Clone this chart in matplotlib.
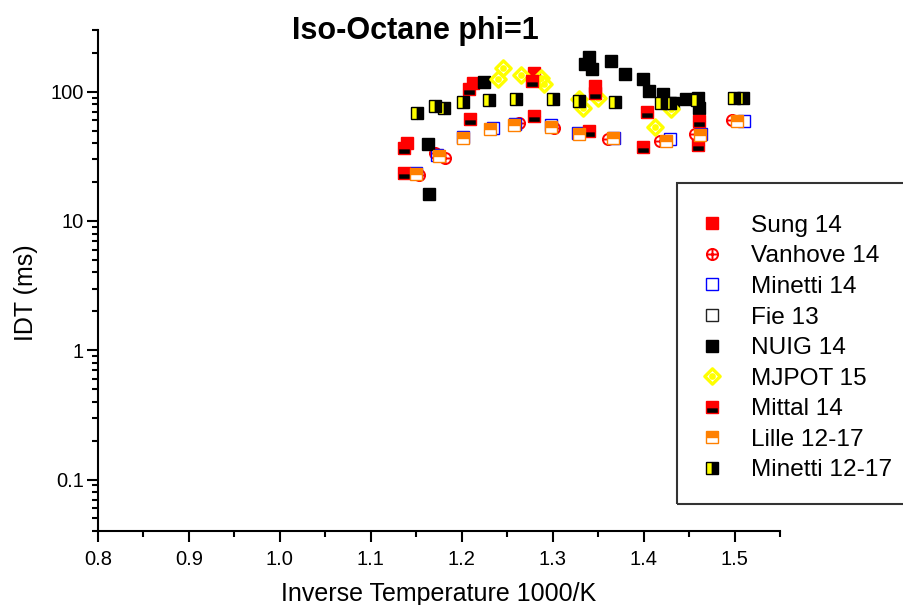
import matplotlib
matplotlib.use("Agg")
import matplotlib.pyplot as plt
from matplotlib.path import Path
from matplotlib.patches import Rectangle
import numpy as np

plt.rcParams['font.family'] = ['Liberation Sans', 'DejaVu Sans']

# ---------------- data (1000/T, IDT in ms) ----------------
sung_x = [1.140, 1.212, 1.280, 1.347]
sung_y = [39.9, 117.6, 140.5, 110.0]

vanhove_x = [1.153, 1.171, 1.182, 1.263, 1.302, 1.361, 1.418, 1.457, 1.497]
vanhove_y = [22.6, 33.8, 30.5, 56.9, 52.8, 43.4, 41.6, 46.8, 60.4]

minetti14_x = [1.150, 1.173, 1.201, 1.234, 1.259, 1.298, 1.328, 1.367, 1.429, 1.463, 1.510]
minetti14_y = [23.3, 32.2, 44.6, 52.4, 56.0, 55.0, 48.3, 44.2, 42.8, 46.8, 59.3]

fie_x = []
fie_y = []

nuig_x = [1.163, 1.164, 1.225, 1.340, 1.336, 1.343, 1.364, 1.380, 1.399, 1.406,
          1.421, 1.432, 1.447, 1.460, 1.461]
nuig_y = [39.2, 16.1, 118.9, 186.2, 162.9, 149.0, 172.8, 136.3, 124.7, 101.3,
          95.5, 82.4, 87.4, 90.0, 75.3]

mjpot_x = [1.240, 1.245, 1.265, 1.287, 1.291, 1.329, 1.333, 1.350, 1.412, 1.430]
mjpot_y = [126.3, 153.6, 133.9, 128.5, 114.1, 88.4, 75.3, 90.0, 53.5, 73.1]

mittal_x = [1.137, 1.137, 1.208, 1.209, 1.277, 1.280, 1.340, 1.347, 1.399, 1.404, 1.460, 1.461]
mittal_y = [37.0, 23.3, 104.4, 61.2, 121.0, 64.9, 49.7, 98.4, 37.6, 69.9, 38.5, 59.0]

lille_x = [1.150, 1.175, 1.201, 1.231, 1.257, 1.298, 1.329, 1.366, 1.425, 1.462, 1.503]
lille_y = [23.0, 31.8, 44.2, 51.8, 55.3, 53.7, 47.4, 44.2, 41.6, 46.0, 59.3]

minetti1217_x = [1.151, 1.171, 1.181, 1.201, 1.230, 1.260, 1.300, 1.329, 1.368,
                 1.419, 1.429, 1.459, 1.499, 1.509]
minetti1217_y = [69.0, 77.5, 75.3, 83.8, 86.2, 88.4, 87.4, 84.7, 83.8,
                 82.4, 82.4, 86.2, 90.0, 90.0]

x_ticks = [0.8, 0.9, 1.0, 1.1, 1.2, 1.3, 1.4, 1.5]
y_ticks = [0.1, 1, 10, 100]
y_ticklabels = ['0.1', '1', '10', '100']

# ---------------- custom markers ----------------
circ = Path.unit_circle()
cross = Path([[-1, 0], [1, 0], [0, -1], [0, 1]],
             [Path.MOVETO, Path.LINETO, Path.MOVETO, Path.LINETO])
oplus = Path.make_compound_path(circ, cross)

diamond = Path([[0, 1], [1, 0], [0, -1], [-1, 0], [0, 1]],
               [Path.MOVETO, Path.LINETO, Path.LINETO, Path.LINETO, Path.CLOSEPOLY])
small_c = Path(Path.unit_circle().vertices * 0.22, Path.unit_circle().codes)
diam_ring = Path.make_compound_path(diamond, small_c)

W, H = 904, 605
fig = plt.figure(figsize=(W / 100, H / 100), dpi=100)
ax = fig.add_axes([98 / W, 1 - 531 / H, (780 - 98) / W, (531 - 30) / H])

ms = 8
ax.plot(sung_x, sung_y, ls='none', marker='s', ms=ms, mfc='#ff0000', mec='#ff0000',
        mew=1, label='Sung 14')
ax.plot(vanhove_x, vanhove_y, ls='none', marker=oplus, ms=ms, mfc='none', mec='#ff0000',
        mew=1.4, label='Vanhove 14')
ax.plot(minetti14_x, minetti14_y, ls='none', marker='s', ms=ms, mfc='none', mec='#0000ff',
        mew=1, label='Minetti 14')
ax.plot(fie_x, fie_y, ls='none', marker='s', ms=ms, mfc='none', mec='#222222',
        mew=1, label='Fie 13')
ax.plot(nuig_x, nuig_y, ls='none', marker='s', ms=ms, mfc='black', mec='black',
        mew=1, label='NUIG 14')
ax.plot(mjpot_x, mjpot_y, ls='none', marker=diam_ring, ms=ms + 3, mfc='none', mec='#ffff00',
        mew=2.4, label='MJPOT 15')
ax.plot(mittal_x, mittal_y, ls='none', marker='s', ms=ms, fillstyle='bottom',
        mfc='black', markerfacecoloralt='#ff0000', mec='#ff0000', mew=1, label='Mittal 14')
ax.plot(lille_x, lille_y, ls='none', marker='s', ms=ms, fillstyle='top',
        mfc='#ff8000', markerfacecoloralt='white', mec='#ff8000', mew=1, label='Lille 12-17')
ax.plot(minetti1217_x, minetti1217_y, ls='none', marker='s', ms=ms, fillstyle='left',
        mfc='#ffff00', markerfacecoloralt='black', mec='black', mew=1, label='Minetti 12-17')

ax.set_yscale('log')
ax.set_xlim(0.8, 1.55)
ax.set_ylim(0.04, 300)
ax.set_xticks(x_ticks)
ax.set_xticklabels([f'{v:.1f}' for v in x_ticks])
ax.set_xticks(np.arange(0.85, 1.56, 0.1), minor=True)
ax.set_yticks(y_ticks)
ax.set_yticklabels(y_ticklabels)
ax.yaxis.set_minor_locator(matplotlib.ticker.LogLocator(base=10, subs=np.arange(2, 10)))
ax.yaxis.set_minor_formatter(matplotlib.ticker.NullFormatter())

for s in ['top', 'right']:
    ax.spines[s].set_visible(False)
for s in ['left', 'bottom']:
    ax.spines[s].set_linewidth(1.5)
ax.tick_params(which='major', direction='out', length=8, width=1.5, labelsize=14.5)
ax.tick_params(which='minor', direction='out', length=4, width=1.5)
ax.tick_params(axis='x', which='major', pad=6)
ax.tick_params(axis='y', which='major', pad=2)

ax.set_xlabel('Inverse Temperature 1000/K', fontsize=18, labelpad=9)
fig.text(26 / W, 1 - 293 / H, 'IDT (ms)', rotation=90, fontsize=18,
         ha='center', va='center')
fig.text(415 / W, 1 - 39 / H, 'Iso-Octane phi=1', fontsize=22, fontweight='bold',
         ha='center', va='baseline')

# frame of the legend box
rect = Rectangle((677 / W, 1 - 504 / H), 240 / W, (504 - 183) / H,
                 transform=fig.transFigure, fill=False,
                 edgecolor='#333333', linewidth=1.5, zorder=5)
fig.patches.append(rect)

leg = ax.legend(loc='upper left', bbox_to_anchor=(677 / W, 1 - 183 / H),
                bbox_transform=fig.transFigure, frameon=False, numpoints=1,
                fontsize=17.6, borderpad=1.3, borderaxespad=0, handlelength=0.27,
                handletextpad=1.46, labelspacing=0.345)

fig.savefig('out.png', dpi=100)
